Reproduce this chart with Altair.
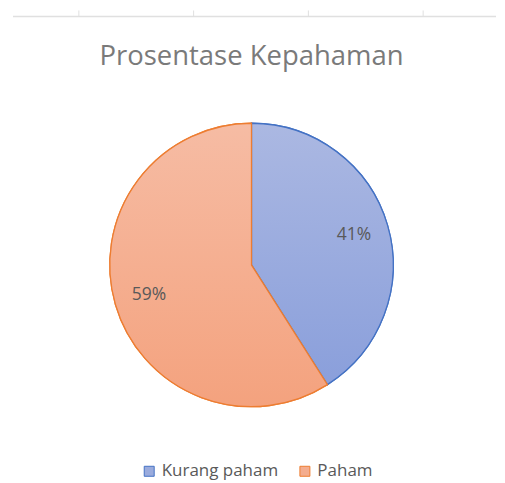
import altair as alt
import pandas as pd

categories = ["Kurang paham", "Paham"]
values = [41, 59]
labels = ["41%", "59%"]
order = [1, 2]

df = pd.DataFrame({"kategori": categories, "nilai": values, "label": labels, "urut": order})

W, H = 489, 467
CX, CY, R = 244, 257, 142

fill_solid = ["#9aabdd", "#f4ad8f"]
edge = ["#4472c4", "#ed7d31"]

grad_blue = alt.LinearGradient(gradient="linear", x1=0, y1=0, x2=0, y2=1,
    stops=[alt.GradientStop(color="#abb8e2", offset=0), alt.GradientStop(color="#8a9fdb", offset=1)])
grad_orange = alt.LinearGradient(gradient="linear", x1=0, y1=0, x2=0, y2=1,
    stops=[alt.GradientStop(color="#f6bca4", offset=0), alt.GradientStop(color="#f4a27e", offset=1)])

base = alt.Chart(df).encode(
    theta=alt.Theta("nilai:Q", stack=True),
    order=alt.Order("urut:Q"),
    x=alt.value(CX), y=alt.value(CY),
)

pie = base.mark_arc(outerRadius=R, strokeWidth=1.3).encode(
    color=alt.Color("kategori:N", sort=categories,
        scale=alt.Scale(domain=categories, range=fill_solid),
        legend=alt.Legend(orient="none", direction="horizontal", legendX=133, legendY=455,
                          title=None, symbolType="square", symbolSize=100,
                          labelFontSize=17, labelColor="#595959", labelFont="Open Sans",
                          columnPadding=18, labelOffset=4, symbolStrokeWidth=1)),
    stroke=alt.Stroke("kategori:N", sort=categories,
        scale=alt.Scale(domain=categories, range=edge), legend=None),
)

overlay = base.mark_arc(outerRadius=R, strokeWidth=1.3).encode(
    fill=alt.condition(alt.datum.kategori == "Kurang paham", alt.value(grad_blue), alt.value(grad_orange)),
    stroke=alt.Stroke("kategori:N", sort=categories,
        scale=alt.Scale(domain=categories, range=edge), legend=None),
)

text = base.mark_text(radius=107, fontSize=17.5, font="Open Sans", color="#595959").encode(
    text="label:N",
)

title = alt.Chart(pd.DataFrame({"t": ["Prosentase Kepahaman"]})).mark_text(
    fontSize=27.5, font="Open Sans", color="#7a7a7a", align="center", baseline="alphabetic"
).encode(text="t:N", x=alt.value(CX), y=alt.value(57))

hline = alt.Chart(pd.DataFrame({"a": [0]})).mark_rule(color="#e0e0e0", strokeWidth=1.5).encode(
    x=alt.value(5), x2=alt.value(489), y=alt.value(8))
ticks = [alt.Chart(pd.DataFrame({"a": [0]})).mark_rule(color="#e0e0e0", strokeWidth=1).encode(
    x=alt.value(tx), y=alt.value(2), y2=alt.value(8)) for tx in [71, 186, 301, 416]]

chart = alt.layer(hline, *ticks, pie, overlay, text, title).properties(
    width=W, height=H, padding=0
).configure_view(stroke=None)

chart.save("out.html", embed_options={"renderer": "svg", "actions": False})
